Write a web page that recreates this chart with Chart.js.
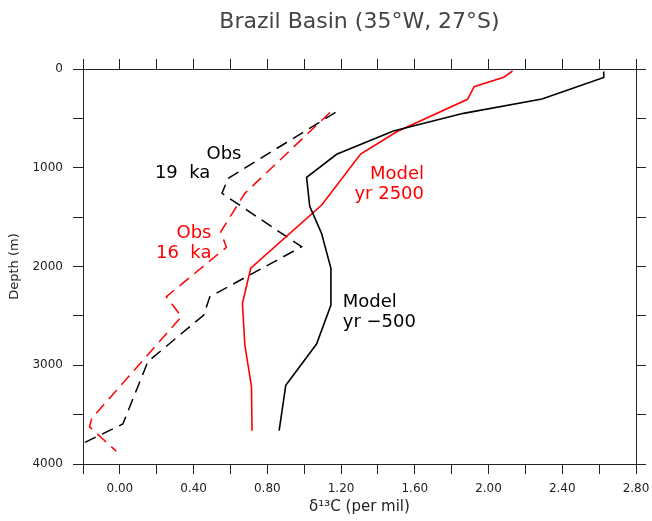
<!DOCTYPE html>
<html>
<head>
<meta charset="utf-8">
<title>Brazil Basin</title>
<script src="https://cdn.jsdelivr.net/npm/chart.js@4.4.1/dist/chart.umd.min.js"></script>
<style>
  body { margin: 0; background: #fff; }
  #wrap { width: 652px; height: 521px; }
</style>
</head>
<body>
<div id="wrap"><canvas id="profile"></canvas></div>
<script>
// d13C (per mil) against depth (m)
const modelM500X = [2.625, 2.625, 2.29, 1.864, 1.484, 1.176, 1.013, 1.03, 1.094, 1.145, 1.145, 1.067, 0.9, 0.864];
const modelM500Depth = [25, 85, 304, 449, 628, 864, 1097, 1390, 1664, 2018, 2390, 2785, 3203, 3663];

const model2500X = [2.13, 2.082, 1.922, 1.886, 1.502, 1.306, 1.095, 0.71, 0.665, 0.678, 0.714, 0.717];
const model2500Depth = [20, 84, 179, 307, 635, 861, 1377, 2018, 2373, 2795, 3217, 3663];

const obs19X = [1.17, 0.587, 0.554, 0.986, 0.488, 0.455, 0.152, 0.016, -0.106, -0.2];
const obs19Depth = [440, 1107, 1259, 1800, 2306, 2491, 2964, 3595, 3706, 3790];

const obs16X = [1.14, 0.678, 0.547, 0.578, 0.252, 0.334, -0.152, -0.165, -0.02];
const obs16Depth = [440, 1259, 1648, 1805, 2306, 2508, 3537, 3622, 3870];

const xMin = -0.2, xMax = 2.8, xStep = 0.2, xLabelStep = 0.4;
const depthMin = 0, depthMax = 4000, depthStep = 500, depthLabelStep = 1000;

const toPoints = (xs, ds) => xs.map((x, i) => ({ x: x, y: ds[i] }));

// text written next to the curves (data coordinates, baseline)
const curveLabels = [
  { text: "Obs", x: 0.47, y: 914, color: "#000", align: "left" },
  { text: "19  ka", x: 0.491, y: 1107, color: "#000", align: "right" },
  { text: "Obs", x: 0.497, y: 1714, color: "#f00", align: "right" },
  { text: "16  ka", x: 0.497, y: 1917, color: "#f00", align: "right" },
  { text: "Model", x: 1.65, y: 1114, color: "#f00", align: "right" },
  { text: "yr 2500", x: 1.65, y: 1316, color: "#f00", align: "right" },
  { text: "Model", x: 1.209, y: 2407, color: "#000", align: "left" },
  { text: "yr \u2212500", x: 1.209, y: 2610, color: "#000", align: "left" },
];

const curveText = {
  id: "curveText",
  afterDatasetsDraw(chart) {
    const { ctx } = chart;
    const sx = chart.scales.x, sy = chart.scales.y;
    ctx.save();
    ctx.font = "18px 'DejaVu Sans'";
    ctx.textBaseline = "alphabetic";
    curveLabels.forEach((l) => {
      ctx.fillStyle = l.color;
      ctx.textAlign = l.align;
      ctx.fillText(l.text, sx.getPixelForValue(l.x), sy.getPixelForValue(l.y));
    });
    ctx.restore();
  },
};

Chart.defaults.font.family = "'DejaVu Sans'";
Chart.defaults.color = "#222";

const frame = {
  grid: { drawOnChartArea: false, drawTicks: true, tickLength: 10, color: "#222", lineWidth: 1 },
  border: { display: true, color: "#222", width: 1 },
};

const onStep = (v, step) => Math.abs(v / step - Math.round(v / step)) < 1e-6;

// fixed box sizes so the frame sits where it does in the figure
const fixHeight = (h) => (s) => {
  s.height = h;
  s.paddingLeft = 0;
  s.paddingRight = 0;
};

new Chart(document.getElementById("profile"), {
  type: "line",
  data: {
    datasets: [
      {
        label: "Model yr -500",
        data: toPoints(modelM500X, modelM500Depth),
        borderColor: "#000",
        borderWidth: 1.6,
      },
      {
        label: "Model yr 2500",
        data: toPoints(model2500X, model2500Depth),
        borderColor: "#f00",
        borderWidth: 1.6,
      },
      {
        label: "Obs 19 ka",
        data: toPoints(obs19X, obs19Depth),
        borderColor: "#000",
        borderWidth: 1.5,
        borderDash: [12, 7],
      },
      {
        label: "Obs 16 ka",
        data: toPoints(obs16X, obs16Depth),
        borderColor: "#f00",
        borderWidth: 1.5,
        borderDash: [12, 7],
      },
    ],
  },
  options: {
    responsive: true,
    maintainAspectRatio: false,
    animation: false,
    layout: { padding: 0 },
    elements: { point: { radius: 0, hoverRadius: 0 }, line: { tension: 0, fill: false } },
    plugins: {
      legend: { display: false },
      tooltip: { enabled: false },
      title: {
        display: true,
        fullSize: false,
        text: "Brazil Basin (35°W, 27°S)",
        color: "#444",
        font: { size: 22, weight: "normal" },
        padding: { top: 9.5, bottom: 0 },
      },
    },
    scales: {
      x: {
        type: "linear",
        position: "bottom",
        min: xMin,
        max: xMax,
        ...frame,
        ticks: {
          stepSize: xStep,
          autoSkip: false,
          maxRotation: 0,
          padding: 8,
          font: { size: 12 },
          callback: (v) => (onStep(v, xLabelStep) ? v.toFixed(2) : ""),
        },
        title: {
          display: true,
          text: "δ¹³C (per mil)",
          font: { size: 15 },
          padding: { top: 0, bottom: 4.5 },
        },
        afterFit: fixHeight(57),
      },
      xTop: {
        type: "linear",
        position: "top",
        min: xMin,
        max: xMax,
        ...frame,
        ticks: { stepSize: xStep, autoSkip: false, display: false },
        afterFit: fixHeight(33.1),
      },
      y: {
        type: "linear",
        position: "left",
        reverse: true,
        min: depthMin,
        max: depthMax,
        ...frame,
        ticks: {
          stepSize: depthStep,
          autoSkip: false,
          padding: 10,
          font: { size: 12 },
          callback: (v) => (onStep(v, depthLabelStep) ? String(v) : ""),
        },
        title: {
          display: true,
          text: "Depth (m)",
          font: { size: 13 },
          padding: { top: 7, bottom: 0 },
        },
        afterFit: (s) => { s.width = 83; },
      },
      yRight: {
        type: "linear",
        position: "right",
        reverse: true,
        min: depthMin,
        max: depthMax,
        ...frame,
        ticks: { stepSize: depthStep, autoSkip: false, display: false },
        afterFit: (s) => { s.width = 16; },
      },
    },
  },
  plugins: [curveText],
});
</script>
</body>
</html>
